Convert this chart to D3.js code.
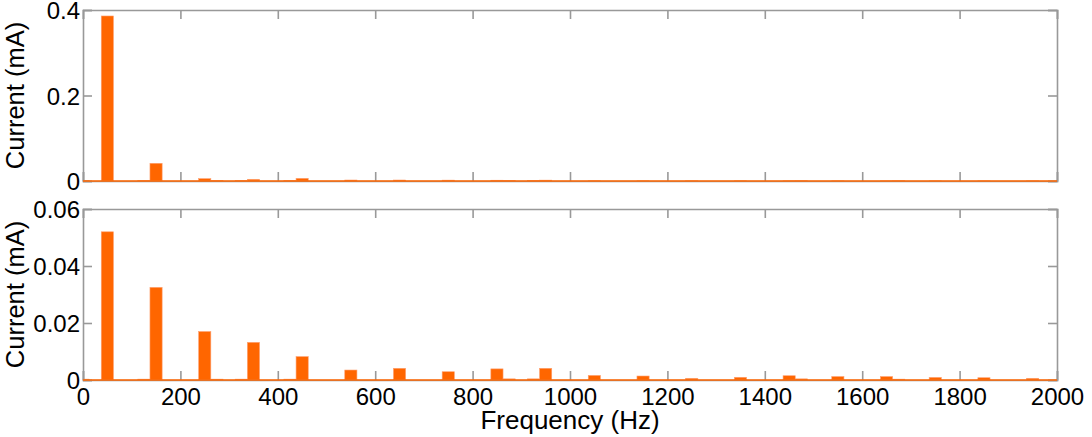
<!DOCTYPE html>
<html>
<head>
<meta charset="utf-8">
<script src="https://cdn.jsdelivr.net/npm/d3@7"></script>
<style>
  body { margin: 0; background: #fff; }
  svg { display: block; font-family: "Liberation Sans", Arial, sans-serif; }
</style>
</head>
<body>
<svg id="chart" width="1092" height="437"></svg>
<script>
// harmonic bins (Hz) and their amplitudes (mA)
const harmonics = [50, 150, 250, 350, 450, 550, 650, 750, 850, 950,
                   1050, 1150, 1250, 1350, 1450, 1550, 1650, 1750, 1850, 1950];
const topCurrent = [0.386, 0.0414, 0.0055, 0.004, 0.0062, 0.0023, 0.0023, 0.002, 0.0018, 0.002,
                    0.0004, 0.0003, 0.0003, 0.0003, 0.0003, 0.0002, 0.0002, 0.0002, 0.0002, 0.0002];
const bottomCurrent = [0.052, 0.0325, 0.017, 0.0132, 0.0082, 0.0035, 0.0041, 0.0029, 0.0039, 0.0041,
                       0.0016, 0.0014, 0.0006, 0.00095, 0.0015, 0.0012, 0.0012, 0.0009, 0.0008, 0.0006];
// small side bins seen next to the harmonics
const sideBins = [0, 125, 275, 325, 425, 875, 925, 1475, 1675];
const topSide = [0.001, 0.001, 0.001, 0.001, 0.001, 0.0008, 0.0008, 0.0005, 0.0005];
const bottomSide = [0.0003, 0.0003, 0.0003, 0.0003, 0.0003, 0.0004, 0.0004, 0.0004, 0.0003];

const xTicks = d3.range(0, 2001, 200);
const topTicks = [0, 0.2, 0.4];
const bottomTicks = [0, 0.02, 0.04, 0.06];

const binWidth = 25;   // Hz
const orange = "#ff6600";
const axisGrey = "#999999";

const svg = d3.select("#chart");
const left = 83, right = 1057;
const x = d3.scaleLinear().domain([0, 2000]).range([left, right]);

function panel(top, bottom, yMax, yTicks, vals, side, fmt, showX) {
  const y = d3.scaleLinear().domain([0, yMax]).range([bottom, top]);
  const g = svg.append("g");

  // bars
  const bars = harmonics.map((f, i) => ({f, v: vals[i]}))
    .concat(sideBins.map((f, i) => ({f, v: side[i]})));
  g.selectAll("rect.bar")
    .data(bars)
    .join("rect")
      .attr("class", "bar")
      .attr("x", d => x(Math.max(0, d.f - binWidth / 2)))
      .attr("width", d => x(Math.min(2000, d.f + binWidth / 2)) - x(Math.max(0, d.f - binWidth / 2)))
      .attr("y", d => y(d.v))
      .attr("height", d => y(0) - y(d.v))
      .attr("fill", orange)
      .attr("stroke", "#ffa070")
      .attr("stroke-width", 0.6);

  // box + ticks
  const axB = d3.axisBottom(x).tickValues(xTicks).tickSize(-9).tickFormat(showX ? d => d : "");
  const axT = d3.axisTop(x).tickValues(xTicks).tickSize(-9).tickFormat("");
  const axL = d3.axisLeft(y).tickValues(yTicks).tickSize(-9).tickFormat(fmt);
  const axR = d3.axisRight(y).tickValues(yTicks).tickSize(-9).tickFormat("");

  function style(sel) {
    sel.selectAll("path.domain").attr("stroke", axisGrey).attr("stroke-width", 1.6);
    sel.selectAll(".tick line").attr("stroke", axisGrey).attr("stroke-width", 1.6);
    sel.selectAll(".tick text").attr("fill", "#000").attr("font-size", 24)
      .attr("font-family", "'Liberation Sans', Arial, sans-serif");
    sel.attr("font-family", null).attr("font-size", null);
  }
  g.append("g").attr("transform", `translate(0,${bottom})`).call(axB).call(style)
    .call(s => s.selectAll(".tick text").attr("y", 8).attr("dy", "0.71em"));
  g.append("g").attr("transform", `translate(0,${top})`).call(axT).call(style)
    .call(s => s.selectAll(".tick text").remove());
  g.append("g").attr("transform", `translate(${left},0)`).call(axL).call(style)
    .call(s => s.selectAll(".tick text").attr("x", -3).attr("dy", "0.36em"));
  g.append("g").attr("transform", `translate(${right},0)`).call(axR).call(style)
    .call(s => s.selectAll(".tick text").remove());

  // orange floor along zero
  g.append("line")
    .attr("x1", x(0)).attr("x2", x(2000))
    .attr("y1", y(0)).attr("y2", y(0))
    .attr("stroke", orange).attr("stroke-width", 1.6);

  // y label
  svg.append("text")
    .attr("transform", `translate(15,${(top + bottom) / 2}) rotate(-90)`)
    .attr("text-anchor", "middle")
    .attr("dy", "0.35em")
    .attr("font-size", 25.5)
    .text("Current (mA)");
}

panel(10, 181, 0.4, topTicks, topCurrent, topSide, d => d === 0 ? "0" : d3.format(".1f")(d), false);
panel(209, 380, 0.06, bottomTicks, bottomCurrent, bottomSide, d => d === 0 ? "0" : d3.format(".2f")(d), true);

svg.append("text")
  .attr("x", (left + right) / 2)
  .attr("y", 429)
  .attr("text-anchor", "middle")
  .attr("font-size", 26)
  .text("Frequency (Hz)");
</script>
</body>
</html>
